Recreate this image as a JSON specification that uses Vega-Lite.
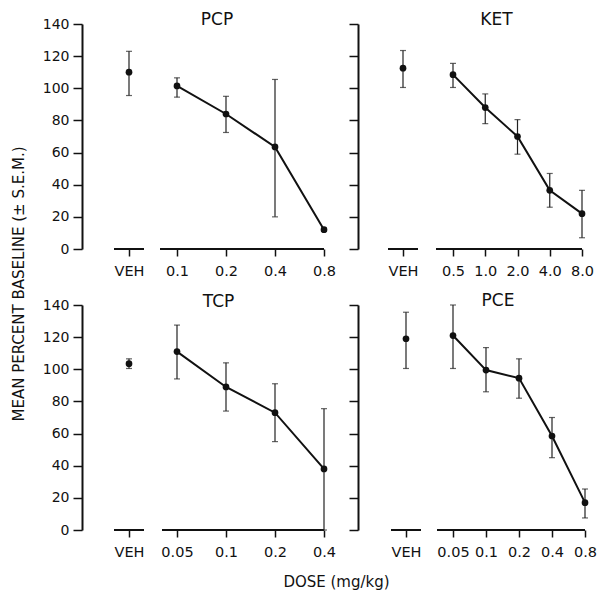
{
  "$schema": "https://vega.github.io/schema/vega-lite/v6.json",
  "background": "white",
  "padding": {"left": 10, "top": 11, "right": 0, "bottom": 0},
  "data": {
    "values": [
      {"drug": "PCP", "dose": "VEH", "mean": 110, "lo": 95.5, "hi": 123},
      {"drug": "PCP", "dose": "0.1", "mean": 101.5, "lo": 94.5, "hi": 106.5},
      {"drug": "PCP", "dose": "0.2", "mean": 84, "lo": 72.5, "hi": 95},
      {"drug": "PCP", "dose": "0.4", "mean": 63.5, "lo": 20, "hi": 105.5},
      {"drug": "PCP", "dose": "0.8", "mean": 12, "lo": 11, "hi": 13},
      {"drug": "KET", "dose": "VEH", "mean": 112.5, "lo": 100.5, "hi": 123.5},
      {"drug": "KET", "dose": "0.5", "mean": 108.5, "lo": 100.5, "hi": 115.5},
      {"drug": "KET", "dose": "1.0", "mean": 88, "lo": 78, "hi": 96.5},
      {"drug": "KET", "dose": "2.0", "mean": 70, "lo": 59, "hi": 80.5},
      {"drug": "KET", "dose": "4.0", "mean": 36.5, "lo": 26, "hi": 47},
      {"drug": "KET", "dose": "8.0", "mean": 22, "lo": 7, "hi": 36.5},
      {"drug": "TCP", "dose": "VEH", "mean": 103.5, "lo": 100.5, "hi": 106.5},
      {"drug": "TCP", "dose": "0.05", "mean": 111, "lo": 94, "hi": 127.5},
      {"drug": "TCP", "dose": "0.1", "mean": 89, "lo": 74, "hi": 104},
      {"drug": "TCP", "dose": "0.2", "mean": 73, "lo": 55, "hi": 91},
      {"drug": "TCP", "dose": "0.4", "mean": 38, "lo": 0, "hi": 75.5},
      {"drug": "PCE", "dose": "VEH", "mean": 119, "lo": 100.5, "hi": 135.5},
      {"drug": "PCE", "dose": "0.05", "mean": 121, "lo": 100.5, "hi": 140},
      {"drug": "PCE", "dose": "0.1", "mean": 99.5, "lo": 86, "hi": 113.5},
      {"drug": "PCE", "dose": "0.2", "mean": 94.5, "lo": 82, "hi": 106.5},
      {"drug": "PCE", "dose": "0.4", "mean": 58.5, "lo": 45, "hi": 70},
      {"drug": "PCE", "dose": "0.8", "mean": 17, "lo": 7.5, "hi": 25.5}
    ]
  },
  "columns": 4,
  "spacing": {"row": 56, "column": 0},
  "bounds": "flush",
  "concat": [
    {
      "width": 46, "height": 225,
      "transform": [{"filter": "datum.drug === 'PCP' && datum.dose === 'VEH'"}],
      "encoding": {"x": {"field": "dose", "type": "nominal", "scale": {"type": "point", "range": [0, 30], "padding": 0.5}, "axis": {"title": null, "domain": false, "tickSize": 7, "tickWidth": 1.5, "labelAngle": 0, "labelFontSize": 14.5, "labelPadding": 8}}},
      "layer": [
        {"mark": {"type": "rule", "xOffset": -15, "x2Offset": 15, "strokeWidth": 2, "color": "#111"}, "encoding": {"x2": {"datum": "VEH"}, "y": {"datum": 0, "type": "quantitative", "scale": {"domain": [0, 140], "nice": false}, "axis": {"orient": "left", "offset": 32, "values": [0, 20, 40, 60, 80, 100, 120, 140], "tickSize": 9, "tickWidth": 1.5, "domainWidth": 2, "labelFontSize": 14, "labelPadding": 4, "title": "MEAN PERCENT BASELINE (± S.E.M.)", "titleFontSize": 15, "titleX": -59, "titleY": 259.5, "titleAngle": 270, "titleAlign": "center", "titleBaseline": "alphabetic"}}}},
        {"mark": {"type": "rule", "strokeWidth": 1.2, "color": "#222"}, "encoding": {"y": {"field": "lo", "type": "quantitative", "axis": {"orient": "left", "offset": 32, "values": [0, 20, 40, 60, 80, 100, 120, 140], "tickSize": 9, "tickWidth": 1.5, "domainWidth": 2, "labelFontSize": 14, "labelPadding": 4, "title": "MEAN PERCENT BASELINE (± S.E.M.)", "titleFontSize": 15, "titleX": -59, "titleY": 259.5, "titleAngle": 270, "titleAlign": "center", "titleBaseline": "alphabetic"}}, "y2": {"field": "hi"}}},
        {"mark": {"type": "tick", "size": 6, "thickness": 1.2, "color": "#222"}, "encoding": {"y": {"field": "lo", "type": "quantitative", "axis": {"orient": "left", "offset": 32, "values": [0, 20, 40, 60, 80, 100, 120, 140], "tickSize": 9, "tickWidth": 1.5, "domainWidth": 2, "labelFontSize": 14, "labelPadding": 4, "title": "MEAN PERCENT BASELINE (± S.E.M.)", "titleFontSize": 15, "titleX": -59, "titleY": 259.5, "titleAngle": 270, "titleAlign": "center", "titleBaseline": "alphabetic"}}}},
        {"mark": {"type": "tick", "size": 6, "thickness": 1.2, "color": "#222"}, "encoding": {"y": {"field": "hi", "type": "quantitative", "axis": {"orient": "left", "offset": 32, "values": [0, 20, 40, 60, 80, 100, 120, 140], "tickSize": 9, "tickWidth": 1.5, "domainWidth": 2, "labelFontSize": 14, "labelPadding": 4, "title": "MEAN PERCENT BASELINE (± S.E.M.)", "titleFontSize": 15, "titleX": -59, "titleY": 259.5, "titleAngle": 270, "titleAlign": "center", "titleBaseline": "alphabetic"}}}},
        {"mark": {"type": "point", "filled": true, "size": 45, "color": "#111", "opacity": 1}, "encoding": {"y": {"field": "mean", "type": "quantitative", "scale": {"domain": [0, 140], "nice": false}, "axis": {"orient": "left", "offset": 32, "values": [0, 20, 40, 60, 80, 100, 120, 140], "tickSize": 9, "tickWidth": 1.5, "domainWidth": 2, "labelFontSize": 14, "labelPadding": 4, "title": "MEAN PERCENT BASELINE (± S.E.M.)", "titleFontSize": 15, "titleX": -59, "titleY": 259.5, "titleAngle": 270, "titleAlign": "center", "titleBaseline": "alphabetic"}}}}
      ]
    },
    {
      "width": 228, "height": 225,
      "title": {"text": "PCP", "anchor": "middle", "dx": -57, "dy": 18, "offset": 0, "baseline": "alphabetic", "fontSize": 17, "frame": "group"},
      "transform": [{"filter": "datum.drug === 'PCP' && datum.dose !== 'VEH'"}],
      "encoding": {"x": {"field": "dose", "type": "nominal", "scale": {"type": "point", "range": [17, 164], "padding": 0, "domain": ["0.1", "0.2", "0.4", "0.8"]}, "axis": {"title": null, "domain": false, "tickSize": 7, "tickWidth": 1.5, "labelAngle": 0, "labelFontSize": 14.5, "labelPadding": 8}}},
      "layer": [
        {"transform": [{"filter": "datum.dose === '0.1'"}], "mark": {"type": "rule", "xOffset": -17, "strokeWidth": 2, "color": "#111"}, "encoding": {"x2": {"datum": "0.8"}, "y": {"datum": 0, "type": "quantitative", "scale": {"domain": [0, 140], "nice": false}, "axis": null}}},
        {"mark": {"type": "line", "strokeWidth": 2, "color": "#111"}, "encoding": {"y": {"field": "mean", "type": "quantitative", "scale": {"domain": [0, 140], "nice": false}, "axis": null}}},
        {"mark": {"type": "rule", "strokeWidth": 1.2, "color": "#222"}, "encoding": {"y": {"field": "lo", "type": "quantitative", "axis": null}, "y2": {"field": "hi"}}},
        {"mark": {"type": "tick", "size": 6, "thickness": 1.2, "color": "#222"}, "encoding": {"y": {"field": "lo", "type": "quantitative", "axis": null}}},
        {"mark": {"type": "tick", "size": 6, "thickness": 1.2, "color": "#222"}, "encoding": {"y": {"field": "hi", "type": "quantitative", "axis": null}}},
        {"mark": {"type": "point", "filled": true, "size": 45, "color": "#111", "opacity": 1}, "encoding": {"y": {"field": "mean", "type": "quantitative", "axis": null}}}
      ]
    },
    {
      "width": 48, "height": 225,
      "transform": [{"filter": "datum.drug === 'KET' && datum.dose === 'VEH'"}],
      "encoding": {"x": {"field": "dose", "type": "nominal", "scale": {"type": "point", "range": [0, 30], "padding": 0.5}, "axis": {"title": null, "domain": false, "tickSize": 7, "tickWidth": 1.5, "labelAngle": 0, "labelFontSize": 14.5, "labelPadding": 8}}},
      "layer": [
        {"mark": {"type": "rule", "xOffset": -15, "x2Offset": 15, "strokeWidth": 2, "color": "#111"}, "encoding": {"x2": {"datum": "VEH"}, "y": {"datum": 0, "type": "quantitative", "scale": {"domain": [0, 140], "nice": false}, "axis": {"orient": "left", "offset": 30, "values": [0, 20, 40, 60, 80, 100, 120, 140], "tickSize": 9, "tickWidth": 1.5, "domainWidth": 2, "labels": false, "title": null}}}},
        {"mark": {"type": "rule", "strokeWidth": 1.2, "color": "#222"}, "encoding": {"y": {"field": "lo", "type": "quantitative", "axis": {"orient": "left", "offset": 30, "values": [0, 20, 40, 60, 80, 100, 120, 140], "tickSize": 9, "tickWidth": 1.5, "domainWidth": 2, "labels": false, "title": null}}, "y2": {"field": "hi"}}},
        {"mark": {"type": "tick", "size": 6, "thickness": 1.2, "color": "#222"}, "encoding": {"y": {"field": "lo", "type": "quantitative", "axis": {"orient": "left", "offset": 30, "values": [0, 20, 40, 60, 80, 100, 120, 140], "tickSize": 9, "tickWidth": 1.5, "domainWidth": 2, "labels": false, "title": null}}}},
        {"mark": {"type": "tick", "size": 6, "thickness": 1.2, "color": "#222"}, "encoding": {"y": {"field": "hi", "type": "quantitative", "axis": {"orient": "left", "offset": 30, "values": [0, 20, 40, 60, 80, 100, 120, 140], "tickSize": 9, "tickWidth": 1.5, "domainWidth": 2, "labels": false, "title": null}}}},
        {"mark": {"type": "point", "filled": true, "size": 45, "color": "#111", "opacity": 1}, "encoding": {"y": {"field": "mean", "type": "quantitative", "scale": {"domain": [0, 140], "nice": false}, "axis": {"orient": "left", "offset": 30, "values": [0, 20, 40, 60, 80, 100, 120, 140], "tickSize": 9, "tickWidth": 1.5, "domainWidth": 2, "labels": false, "title": null}}}}
      ]
    },
    {
      "width": 150, "height": 225,
      "title": {"text": "KET", "anchor": "middle", "dx": -14.5, "dy": 18, "offset": 0, "baseline": "alphabetic", "fontSize": 17, "frame": "group"},
      "transform": [{"filter": "datum.drug === 'KET' && datum.dose !== 'VEH'"}],
      "encoding": {"x": {"field": "dose", "type": "nominal", "scale": {"type": "point", "range": [17, 146], "padding": 0, "domain": ["0.5", "1.0", "2.0", "4.0", "8.0"]}, "axis": {"title": null, "domain": false, "tickSize": 7, "tickWidth": 1.5, "labelAngle": 0, "labelFontSize": 14.5, "labelPadding": 8}}},
      "layer": [
        {"transform": [{"filter": "datum.dose === '0.5'"}], "mark": {"type": "rule", "xOffset": -17, "strokeWidth": 2, "color": "#111"}, "encoding": {"x2": {"datum": "8.0"}, "y": {"datum": 0, "type": "quantitative", "scale": {"domain": [0, 140], "nice": false}, "axis": null}}},
        {"mark": {"type": "line", "strokeWidth": 2, "color": "#111"}, "encoding": {"y": {"field": "mean", "type": "quantitative", "scale": {"domain": [0, 140], "nice": false}, "axis": null}}},
        {"mark": {"type": "rule", "strokeWidth": 1.2, "color": "#222"}, "encoding": {"y": {"field": "lo", "type": "quantitative", "axis": null}, "y2": {"field": "hi"}}},
        {"mark": {"type": "tick", "size": 6, "thickness": 1.2, "color": "#222"}, "encoding": {"y": {"field": "lo", "type": "quantitative", "axis": null}}},
        {"mark": {"type": "tick", "size": 6, "thickness": 1.2, "color": "#222"}, "encoding": {"y": {"field": "hi", "type": "quantitative", "axis": null}}},
        {"mark": {"type": "point", "filled": true, "size": 45, "color": "#111", "opacity": 1}, "encoding": {"y": {"field": "mean", "type": "quantitative", "axis": null}}}
      ]
    },
    {
      "width": 46, "height": 225,
      "transform": [{"filter": "datum.drug === 'TCP' && datum.dose === 'VEH'"}],
      "encoding": {"x": {"field": "dose", "type": "nominal", "scale": {"type": "point", "range": [0, 30], "padding": 0.5}, "axis": {"title": null, "domain": false, "tickSize": 7, "tickWidth": 1.5, "labelAngle": 0, "labelFontSize": 14.5, "labelPadding": 8}}},
      "layer": [
        {"mark": {"type": "rule", "xOffset": -15, "x2Offset": 15, "strokeWidth": 2, "color": "#111"}, "encoding": {"x2": {"datum": "VEH"}, "y": {"datum": 0, "type": "quantitative", "scale": {"domain": [0, 140], "nice": false}, "axis": {"orient": "left", "offset": 32, "values": [0, 20, 40, 60, 80, 100, 120, 140], "tickSize": 9, "tickWidth": 1.5, "domainWidth": 2, "labelFontSize": 14, "labelPadding": 4, "title": null}}}},
        {"mark": {"type": "rule", "strokeWidth": 1.2, "color": "#222"}, "encoding": {"y": {"field": "lo", "type": "quantitative", "axis": {"orient": "left", "offset": 32, "values": [0, 20, 40, 60, 80, 100, 120, 140], "tickSize": 9, "tickWidth": 1.5, "domainWidth": 2, "labelFontSize": 14, "labelPadding": 4, "title": null}}, "y2": {"field": "hi"}}},
        {"mark": {"type": "tick", "size": 6, "thickness": 1.2, "color": "#222"}, "encoding": {"y": {"field": "lo", "type": "quantitative", "axis": {"orient": "left", "offset": 32, "values": [0, 20, 40, 60, 80, 100, 120, 140], "tickSize": 9, "tickWidth": 1.5, "domainWidth": 2, "labelFontSize": 14, "labelPadding": 4, "title": null}}}},
        {"mark": {"type": "tick", "size": 6, "thickness": 1.2, "color": "#222"}, "encoding": {"y": {"field": "hi", "type": "quantitative", "axis": {"orient": "left", "offset": 32, "values": [0, 20, 40, 60, 80, 100, 120, 140], "tickSize": 9, "tickWidth": 1.5, "domainWidth": 2, "labelFontSize": 14, "labelPadding": 4, "title": null}}}},
        {"mark": {"type": "point", "filled": true, "size": 45, "color": "#111", "opacity": 1}, "encoding": {"y": {"field": "mean", "type": "quantitative", "scale": {"domain": [0, 140], "nice": false}, "axis": {"orient": "left", "offset": 32, "values": [0, 20, 40, 60, 80, 100, 120, 140], "tickSize": 9, "tickWidth": 1.5, "domainWidth": 2, "labelFontSize": 14, "labelPadding": 4, "title": null}}}}
      ]
    },
    {
      "width": 228, "height": 225,
      "title": {"text": "TCP", "anchor": "middle", "dx": -55.5, "dy": 19, "offset": 0, "baseline": "alphabetic", "fontSize": 17, "frame": "group"},
      "transform": [{"filter": "datum.drug === 'TCP' && datum.dose !== 'VEH'"}],
      "encoding": {"x": {"field": "dose", "type": "nominal", "scale": {"type": "point", "range": [17, 164], "padding": 0, "domain": ["0.05", "0.1", "0.2", "0.4"]}, "axis": {"title": "DOSE (mg/kg)", "titleFontSize": 15, "titleX": 176, "titleY": 56.5, "titleAlign": "center", "titleBaseline": "alphabetic", "domain": false, "tickSize": 7, "tickWidth": 1.5, "labelAngle": 0, "labelFontSize": 14.5, "labelPadding": 8}}},
      "layer": [
        {"transform": [{"filter": "datum.dose === '0.05'"}], "mark": {"type": "rule", "xOffset": -15, "strokeWidth": 2, "color": "#111"}, "encoding": {"x2": {"datum": "0.4"}, "y": {"datum": 0, "type": "quantitative", "scale": {"domain": [0, 140], "nice": false}, "axis": null}}},
        {"mark": {"type": "line", "strokeWidth": 2, "color": "#111"}, "encoding": {"y": {"field": "mean", "type": "quantitative", "scale": {"domain": [0, 140], "nice": false}, "axis": null}}},
        {"mark": {"type": "rule", "strokeWidth": 1.2, "color": "#222"}, "encoding": {"y": {"field": "lo", "type": "quantitative", "axis": null}, "y2": {"field": "hi"}}},
        {"mark": {"type": "tick", "size": 6, "thickness": 1.2, "color": "#222"}, "encoding": {"y": {"field": "lo", "type": "quantitative", "axis": null}}},
        {"mark": {"type": "tick", "size": 6, "thickness": 1.2, "color": "#222"}, "encoding": {"y": {"field": "hi", "type": "quantitative", "axis": null}}},
        {"mark": {"type": "point", "filled": true, "size": 45, "color": "#111", "opacity": 1}, "encoding": {"y": {"field": "mean", "type": "quantitative", "axis": null}}}
      ]
    },
    {
      "width": 48, "height": 225,
      "transform": [{"filter": "datum.drug === 'PCE' && datum.dose === 'VEH'"}],
      "encoding": {"x": {"field": "dose", "type": "nominal", "scale": {"type": "point", "range": [3, 33], "padding": 0.5}, "axis": {"title": null, "domain": false, "tickSize": 7, "tickWidth": 1.5, "labelAngle": 0, "labelFontSize": 14.5, "labelPadding": 8}}},
      "layer": [
        {"mark": {"type": "rule", "xOffset": -15, "x2Offset": 15, "strokeWidth": 2, "color": "#111"}, "encoding": {"x2": {"datum": "VEH"}, "y": {"datum": 0, "type": "quantitative", "scale": {"domain": [0, 140], "nice": false}, "axis": {"orient": "left", "offset": 30, "values": [0, 20, 40, 60, 80, 100, 120, 140], "tickSize": 9, "tickWidth": 1.5, "domainWidth": 2, "labels": false, "title": null}}}},
        {"mark": {"type": "rule", "strokeWidth": 1.2, "color": "#222"}, "encoding": {"y": {"field": "lo", "type": "quantitative", "axis": {"orient": "left", "offset": 30, "values": [0, 20, 40, 60, 80, 100, 120, 140], "tickSize": 9, "tickWidth": 1.5, "domainWidth": 2, "labels": false, "title": null}}, "y2": {"field": "hi"}}},
        {"mark": {"type": "tick", "size": 6, "thickness": 1.2, "color": "#222"}, "encoding": {"y": {"field": "lo", "type": "quantitative", "axis": {"orient": "left", "offset": 30, "values": [0, 20, 40, 60, 80, 100, 120, 140], "tickSize": 9, "tickWidth": 1.5, "domainWidth": 2, "labels": false, "title": null}}}},
        {"mark": {"type": "tick", "size": 6, "thickness": 1.2, "color": "#222"}, "encoding": {"y": {"field": "hi", "type": "quantitative", "axis": {"orient": "left", "offset": 30, "values": [0, 20, 40, 60, 80, 100, 120, 140], "tickSize": 9, "tickWidth": 1.5, "domainWidth": 2, "labels": false, "title": null}}}},
        {"mark": {"type": "point", "filled": true, "size": 45, "color": "#111", "opacity": 1}, "encoding": {"y": {"field": "mean", "type": "quantitative", "scale": {"domain": [0, 140], "nice": false}, "axis": {"orient": "left", "offset": 30, "values": [0, 20, 40, 60, 80, 100, 120, 140], "tickSize": 9, "tickWidth": 1.5, "domainWidth": 2, "labels": false, "title": null}}}}
      ]
    },
    {
      "width": 150, "height": 225,
      "title": {"text": "PCE", "anchor": "middle", "dx": -13, "dy": 19, "offset": 0, "baseline": "alphabetic", "fontSize": 17, "frame": "group"},
      "transform": [{"filter": "datum.drug === 'PCE' && datum.dose !== 'VEH'"}],
      "encoding": {"x": {"field": "dose", "type": "nominal", "scale": {"type": "point", "range": [17, 149], "padding": 0, "domain": ["0.05", "0.1", "0.2", "0.4", "0.8"]}, "axis": {"title": null, "domain": false, "tickSize": 7, "tickWidth": 1.5, "labelAngle": 0, "labelFontSize": 14.5, "labelPadding": 8}}},
      "layer": [
        {"transform": [{"filter": "datum.dose === '0.05'"}], "mark": {"type": "rule", "xOffset": -16, "strokeWidth": 2, "color": "#111"}, "encoding": {"x2": {"datum": "0.8"}, "y": {"datum": 0, "type": "quantitative", "scale": {"domain": [0, 140], "nice": false}, "axis": null}}},
        {"mark": {"type": "line", "strokeWidth": 2, "color": "#111"}, "encoding": {"y": {"field": "mean", "type": "quantitative", "scale": {"domain": [0, 140], "nice": false}, "axis": null}}},
        {"mark": {"type": "rule", "strokeWidth": 1.2, "color": "#222"}, "encoding": {"y": {"field": "lo", "type": "quantitative", "axis": null}, "y2": {"field": "hi"}}},
        {"mark": {"type": "tick", "size": 6, "thickness": 1.2, "color": "#222"}, "encoding": {"y": {"field": "lo", "type": "quantitative", "axis": null}}},
        {"mark": {"type": "tick", "size": 6, "thickness": 1.2, "color": "#222"}, "encoding": {"y": {"field": "hi", "type": "quantitative", "axis": null}}},
        {"mark": {"type": "point", "filled": true, "size": 45, "color": "#111", "opacity": 1}, "encoding": {"y": {"field": "mean", "type": "quantitative", "axis": null}}}
      ]
    }
  ],
  "config": {
    "view": {"stroke": null},
    "font": "DejaVu Sans",
    "axis": {"grid": false, "domainColor": "#111", "tickColor": "#111", "labelColor": "#111", "labelFont": "DejaVu Sans", "titleColor": "#111", "titleFont": "DejaVu Sans", "titleFontWeight": "normal", "labelOverlap": false},
    "title": {"font": "DejaVu Sans", "fontWeight": "normal", "color": "#111"}
  }
}
